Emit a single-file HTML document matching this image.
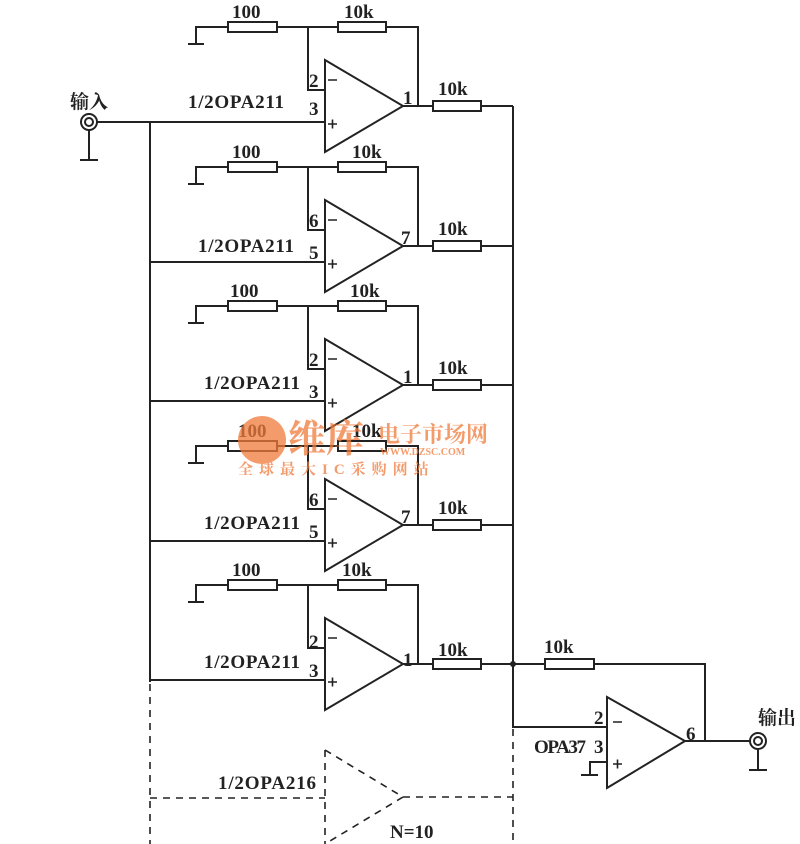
<!DOCTYPE html>
<html><head><meta charset="utf-8"><style>
html,body{margin:0;padding:0;background:#fff;}
svg{display:block;}
text{font-family:"Liberation Serif","Noto Serif CJK SC",serif;fill:#222;font-weight:bold;}
</style></head><body>
<svg width="800" height="844" viewBox="0 0 800 844" xmlns="http://www.w3.org/2000/svg">
<defs>
<g id="st" stroke="#222" stroke-width="2" fill="none">
  <path d="M196 44 V27 H228 M277 27 H338 M386 27 H418 V106 H433 M481 106 H513"/>
  <path d="M188 44 H204"/>
  <rect x="228" y="22" width="49" height="10" fill="#fff"/>
  <rect x="338" y="22" width="48" height="10" fill="#fff"/>
  <rect x="433" y="101" width="48" height="10" fill="#fff"/>
  <path d="M308 27 V90 H325"/>
  <path d="M150 122 H325"/>
  <path d="M325 60 L403 106 L325 152 Z" fill="#fff"/>
  <path d="M403 106 H418"/>
  <path d="M328 80 H337 M328 124 H337 M332.5 119.5 V128.5" stroke-width="1.6"/>
</g>
</defs>
<g font-size="19">
<use href="#st"/>
<text x="232" y="18">100</text><text x="344" y="18">10k</text><text x="438" y="95">10k</text>
<text x="188" y="108" textLength="96">1/2OPA211</text><text x="309" y="87">2</text><text x="309" y="115">3</text><text x="403" y="104">1</text>

<g transform="translate(0,140)"><use href="#st"/>
<text x="232" y="18">100</text><text x="352" y="18">10k</text><text x="438" y="95">10k</text>
<text x="198" y="112" textLength="96">1/2OPA211</text><text x="309" y="87">6</text><text x="309" y="119">5</text><text x="401" y="104">7</text></g>

<g transform="translate(0,279)"><use href="#st"/>
<text x="230" y="18">100</text><text x="350" y="18">10k</text><text x="438" y="95">10k</text>
<text x="204" y="110" textLength="96">1/2OPA211</text><text x="309" y="87">2</text><text x="309" y="119">3</text><text x="403" y="104">1</text></g>

<g transform="translate(0,419)"><use href="#st"/>
<text x="238" y="18">100</text><text x="352" y="18">10k</text><text x="438" y="95">10k</text>
<text x="204" y="110" textLength="96">1/2OPA211</text><text x="309" y="87">6</text><text x="309" y="119">5</text><text x="401" y="104">7</text></g>

<g transform="translate(0,558)"><use href="#st"/>
<text x="232" y="18">100</text><text x="342" y="18">10k</text><text x="438" y="98">10k</text>
<text x="204" y="110" textLength="96">1/2OPA211</text><text x="309" y="90">2</text><text x="309" y="119">3</text><text x="403" y="108">1</text></g>
</g>

<g stroke="#222" stroke-width="2" fill="none">
  <path d="M97 122 H150 V682"/>
  <circle cx="89" cy="122" r="8"/><circle cx="89" cy="122" r="4"/>
  <path d="M89 130 V160 M80 160 H98"/>
  <path d="M513 106 V727 H607"/>
  <path d="M513 664 H545 M594 664 H705 V741"/>
  <rect x="545" y="659" width="49" height="10" fill="#fff"/>
  <path d="M607 697 L685 741 L607 788 Z" fill="#fff"/>
  <path d="M685 741 H750"/>
  <circle cx="758" cy="741" r="8"/><circle cx="758" cy="741" r="4"/>
  <path d="M758 749 V770 M749 770 H767"/>
  <path d="M607 762 H590 V775 M581 775 H598"/>
  <path d="M613 722 H622 M613 764 H622 M617.5 759.5 V768.5" stroke-width="1.6"/>
  <g stroke-dasharray="7,6" stroke-width="1.6">
    <path d="M150 684 V844 M150 798 H325 M325 750 V844 M325 750 L403 797 L325 844 M403 797 H513 M513 729 V844"/>
  </g>
</g>
<circle cx="513" cy="664" r="3" fill="#222"/>
<g font-size="19">
<text x="544" y="653">10k</text>
<text x="534" y="753" textLength="52">OPA37</text><text x="594" y="724">2</text><text x="594" y="753">3</text><text x="686" y="740">6</text>
<text x="218" y="789" textLength="98">1/2OPA216</text><text x="390" y="838">N=10</text>
<text x="70" y="108" font-family="Noto Sans CJK SC,sans-serif">输入</text>
<text x="758" y="724" font-family="Noto Sans CJK SC,sans-serif">输出</text>
</g>
<g opacity="0.75">
<circle cx="262" cy="440" r="24" fill="#f07a3a"/>
<text x="288" y="452" font-size="38" style="fill:#f07a3a" font-family="Noto Sans CJK SC,sans-serif">维库</text>
<text x="378" y="442" font-size="22" style="fill:#f07a3a" font-family="Noto Sans CJK SC,sans-serif">电子市场网</text>
<text x="380" y="455" font-size="10" style="fill:#f07a3a" font-family="Liberation Sans,sans-serif">WWW.DZSC.COM</text>
<text x="238" y="474" font-size="15" style="fill:#f07a3a;letter-spacing:6px" font-family="Noto Sans CJK SC,sans-serif">全球最大IC采购网站</text>
</g>
</svg>
</body></html>
